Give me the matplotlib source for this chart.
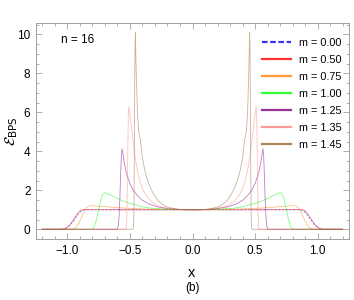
import matplotlib
matplotlib.use("Agg")
import matplotlib.pyplot as plt
from matplotlib.lines import Line2D
from matplotlib.ticker import MultipleLocator
import numpy as np

plt.rcParams['font.family'] = ['Liberation Sans', 'DejaVu Sans']
plt.rcParams['mathtext.fontset'] = 'dejavusans'

# ---- data (right half, x >= 0; curves are symmetric in x) ----
labels = ["m = 0.00", "m = 0.50", "m = 0.75", "m = 1.00", "m = 1.25", "m = 1.35", "m = 1.45"]
colors = ["#0000ff", "#ff0000", "#ff8000", "#00ff00", "#800080", "#ff8080", "#996633"]

x_m000 = [0.00, 0.85, 0.87, 0.89, 0.91, 0.93, 0.95, 0.97, 0.99, 1.01, 1.03, 1.05, 1.20]
y_m000 = [1.00, 1.00, 0.98, 0.92, 0.80, 0.62, 0.44, 0.27, 0.14, 0.06, 0.015, 0.0, 0.0]

x_m050 = [0.00, 0.80, 0.86, 0.88, 0.90, 0.92, 0.94, 0.96, 0.98, 1.00, 1.02, 1.04, 1.20]
y_m050 = [1.00, 1.00, 1.02, 1.01, 0.94, 0.80, 0.60, 0.40, 0.22, 0.10, 0.03, 0.0, 0.0]

x_m075 = [0.00, 0.20, 0.40, 0.50, 0.60, 0.70, 0.76, 0.79, 0.81, 0.83, 0.85, 0.87, 0.89, 0.91, 0.93, 0.95, 0.97, 1.20]
y_m075 = [1.00, 1.01, 1.04, 1.07, 1.11, 1.16, 1.19, 1.21, 1.21, 1.18, 1.08, 0.85, 0.55, 0.28, 0.10, 0.02, 0.0, 0.0]

x_m100 = [0.00, 0.10, 0.20, 0.33, 0.40, 0.50, 0.55, 0.60, 0.62, 0.65, 0.68, 0.70, 0.71, 0.72, 0.735, 0.75, 0.765, 0.78, 0.79, 0.80, 0.82, 1.20]
y_m100 = [1.00, 1.01, 1.03, 1.08, 1.15, 1.33, 1.44, 1.58, 1.64, 1.74, 1.83, 1.87, 1.84, 1.75, 1.45, 1.00, 0.55, 0.20, 0.06, 0.01, 0.0, 0.0]

x_m125 = [0.00, 0.10, 0.20, 0.288, 0.35, 0.403, 0.44, 0.475, 0.50, 0.528, 0.545, 0.555, 0.563, 0.568, 0.574, 0.58, 0.586, 0.592, 0.60, 0.61, 1.20]
y_m125 = [1.00, 1.01, 1.06, 1.16, 1.30, 1.50, 1.73, 2.02, 2.35, 2.87, 3.40, 3.85, 4.13, 3.80, 2.80, 1.60, 0.70, 0.20, 0.02, 0.0, 0.0]

x_m135 = [0.00, 0.10, 0.15, 0.20, 0.26, 0.30, 0.342, 0.37, 0.395, 0.415, 0.435, 0.455, 0.475, 0.49, 0.50, 0.508, 0.512, 0.516, 0.52, 0.524, 0.528, 0.535, 1.20]
y_m135 = [1.00, 1.01, 1.04, 1.08, 1.16, 1.28, 1.50, 1.72, 2.02, 2.35, 2.87, 3.55, 4.58, 5.40, 5.90, 6.30, 6.00, 4.50, 2.50, 0.80, 0.10, 0.0, 0.0]

x_m145 = [0.00, 0.05, 0.10, 0.15, 0.21, 0.24, 0.28, 0.31, 0.328, 0.35, 0.376, 0.40, 0.416, 0.43, 0.44, 0.448, 0.453, 0.456, 0.459, 0.462, 0.465, 0.468, 0.472, 0.48, 1.20]
y_m145 = [1.00, 1.00, 1.02, 1.06, 1.16, 1.27, 1.50, 1.80, 2.02, 2.35, 2.87, 3.65, 4.58, 5.00, 6.00, 7.70, 9.00, 10.10, 9.50, 7.00, 3.50, 0.80, 0.05, 0.0, 0.0]

series_x = [x_m000, x_m050, x_m075, x_m100, x_m125, x_m135, x_m145]
series_y = [y_m000, y_m050, y_m075, y_m100, y_m125, y_m135, y_m145]

x_ticks = [-1.0, -0.5, 0.0, 0.5, 1.0]
y_ticks = [0, 2, 4, 6, 8, 10]

fig = plt.figure(figsize=(3.54, 3.0), dpi=100)
ax = fig.add_axes([36/354, 1-239/300, (349-36)/354, (239-23)/300])

for xs, ys, c, lab in zip(series_x, series_y, colors, labels):
    xr = np.asarray(xs)
    yr = np.asarray(ys)
    xf = np.concatenate([-xr[::-1], xr[1:]])
    yf = np.concatenate([yr[::-1], yr[1:]])
    ls = (0, (3, 1.5)) if lab == "m = 0.00" else '-'
    ax.plot(xf, yf, color=c, lw=0.6, alpha=0.5, ls=ls)

ax.set_xlim(-1.25, 1.25)
ax.set_ylim(-0.5, 10.58)
ax.set_xticks(x_ticks)
ax.set_xticklabels([f"{v:.1f}".replace('-', '\u2212') for v in x_ticks])
ax.set_yticks(y_ticks)
ax.xaxis.set_minor_locator(MultipleLocator(0.1))
ax.yaxis.set_minor_locator(MultipleLocator(0.5))
ax.tick_params(which='both', direction='in', top=True, right=True, colors='#a0a0a0',
               labelcolor='black', labelsize=8.5, width=0.6)
ax.tick_params(which='major', length=4, pad=4)
ax.tick_params(which='minor', length=2)
for s in ax.spines.values():
    s.set_color('#a0a0a0')
    s.set_linewidth(0.7)

handles = []
for c, lab in zip(colors, labels):
    ls = (0, (2.5, 1.2)) if lab == "m = 0.00" else '-'
    handles.append(Line2D([0], [0], color=c, lw=1.6, alpha=0.8, ls=ls))
ax.legend(handles, labels, loc='upper right', bbox_to_anchor=(1.0, 0.965),
          frameon=False, fontsize=7.8, handlelength=2.6, handletextpad=0.75,
          labelspacing=0.64, borderaxespad=0.3)

ax.text(-1.05, 9.55, "n = 16", fontsize=8.5)

fig.text(12/354, 1-131/300, r'$\mathcal{E}_{\rm BPS}$', rotation=90, fontsize=10.5,
         ha='center', va='center')
fig.text(192/354, 1-273/300, "x", fontsize=10.5, ha='center', va='center')
fig.text(192/354, 1-288/300, "(b)", fontsize=8.5, ha='center', va='center')

fig.savefig("out.png", dpi=100)
